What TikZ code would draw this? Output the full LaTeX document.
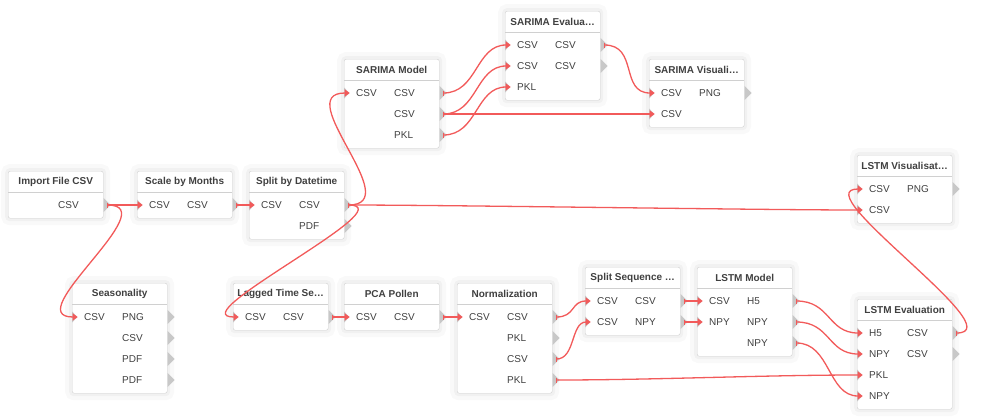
\documentclass[tikz,border=0pt]{standalone}
\usepackage{fontspec}
\setmainfont{Liberation Sans}
\usepackage{xcolor}
\usepackage{tikz}
\usetikzlibrary{shapes,arrows.meta,positioning,calc}

\definecolor{linkred}{RGB}{242,90,90}
\definecolor{portgrey}{RGB}{200,200,200}
\definecolor{boxgrey}{RGB}{208,208,208}
\definecolor{textgrey}{RGB}{64,64,64}

\begin{document}
\begin{tikzpicture}[
    x=1pt, y=-1pt,
    block/.style={rectangle, draw=boxgrey, fill=white, rounded corners=2pt, anchor=north west, inner sep=0pt,
        minimum width=95pt, minimum height=26pt+21pt*#1,
        preaction={draw=black, draw opacity=0.025, line width=14pt},
        preaction={draw=black, draw opacity=0.03, line width=6pt},
        path picture={\draw[boxgrey] ([yshift=-21pt]path picture bounding box.north west) -- ([yshift=-21pt]path picture bounding box.north east);}},
    title/.style={inner sep=0pt, font=\fontsize{10}{12}\selectfont\bfseries, text=textgrey},
    plabel/.style={anchor=west, inner sep=0pt, font=\fontsize{10}{12}\selectfont, text=textgrey},
    oport/.style={isosceles triangle, isosceles triangle stretches, fill=portgrey, inner sep=0pt, minimum width=14pt, minimum height=7pt, anchor=west},
    iport/.style={oport, minimum width=11pt, minimum height=5pt},
    link/.style={draw=linkred, line width=1.3pt, {Bar[width=5pt]}-{Triangle[length=5pt,width=7pt]}},
    wire/.style={to path={.. controls +(#1,0) and +(-#1,0) .. (\tikztotarget)}},
    wire/.default=40
]
\useasboundingbox (0,0) rectangle (983,416);

% Import and split
\node[block=1] (import) at (8,171) {};
\node[title] (import-t) at ([yshift=-10.5pt]import.north) {Import File CSV};
\foreach \i/\t in {1/CSV} {
  \node[plabel] (import-ot\i) at ($(import.north west)+(50,13+21*\i)$) {\t};
  \node[oport] (import-o\i) at (import.east |- import-ot\i) {};
}

\node[block=1] (scale) at (137,171) {};
\node[title] (scale-t) at ([yshift=-10.5pt]scale.north) {Scale by Months};
\foreach \i/\t in {1/CSV} {
  \node[plabel] (scale-it\i) at ($(scale.north west)+(12,13+21*\i)$) {\t};
  \node[iport] (scale-i\i) at (scale.west |- scale-it\i) {};
}
\foreach \i/\t in {1/CSV} {
  \node[plabel] (scale-ot\i) at ($(scale.north west)+(50,13+21*\i)$) {\t};
  \node[oport] (scale-o\i) at (scale.east |- scale-ot\i) {};
}

\node[block=2] (split) at (249,171) {};
\node[title] (split-t) at ([yshift=-10.5pt]split.north) {Split by Datetime};
\foreach \i/\t in {1/CSV} {
  \node[plabel] (split-it\i) at ($(split.north west)+(12,13+21*\i)$) {\t};
  \node[iport] (split-i\i) at (split.west |- split-it\i) {};
}
\foreach \i/\t in {1/CSV,2/PDF} {
  \node[plabel] (split-ot\i) at ($(split.north west)+(50,13+21*\i)$) {\t};
  \node[oport] (split-o\i) at (split.east |- split-ot\i) {};
}

\node[block=4] (season) at (72,283) {};
\node[title] (season-t) at ([yshift=-10.5pt]season.north) {Seasonality};
\foreach \i/\t in {1/CSV} {
  \node[plabel] (season-it\i) at ($(season.north west)+(12,13+21*\i)$) {\t};
  \node[iport] (season-i\i) at (season.west |- season-it\i) {};
}
\foreach \i/\t in {1/PNG,2/CSV,3/PDF,4/PDF} {
  \node[plabel] (season-ot\i) at ($(season.north west)+(50,13+21*\i)$) {\t};
  \node[oport] (season-o\i) at (season.east |- season-ot\i) {};
}

% SARIMA branch
\node[block=3] (smodel) at (344,59) {};
\node[title] (smodel-t) at ([yshift=-10.5pt]smodel.north) {SARIMA Model};
\foreach \i/\t in {1/CSV} {
  \node[plabel] (smodel-it\i) at ($(smodel.north west)+(12,13+21*\i)$) {\t};
  \node[iport] (smodel-i\i) at (smodel.west |- smodel-it\i) {};
}
\foreach \i/\t in {1/CSV,2/CSV,3/PKL} {
  \node[plabel] (smodel-ot\i) at ($(smodel.north west)+(50,13+21*\i)$) {\t};
  \node[oport] (smodel-o\i) at (smodel.east |- smodel-ot\i) {};
}

\node[block=3] (seval) at (505,11) {};
\node[title] (seval-t) at ([yshift=-10.5pt]seval.north) {SARIMA Evalua…};
\foreach \i/\t in {1/CSV,2/CSV,3/PKL} {
  \node[plabel] (seval-it\i) at ($(seval.north west)+(12,13+21*\i)$) {\t};
  \node[iport] (seval-i\i) at (seval.west |- seval-it\i) {};
}
\foreach \i/\t in {1/CSV,2/CSV} {
  \node[plabel] (seval-ot\i) at ($(seval.north west)+(50,13+21*\i)$) {\t};
  \node[oport] (seval-o\i) at (seval.east |- seval-ot\i) {};
}

\node[block=2] (svis) at (649,59) {};
\node[title] (svis-t) at ([yshift=-10.5pt]svis.north) {SARIMA Visuali…};
\foreach \i/\t in {1/CSV,2/CSV} {
  \node[plabel] (svis-it\i) at ($(svis.north west)+(12,13+21*\i)$) {\t};
  \node[iport] (svis-i\i) at (svis.west |- svis-it\i) {};
}
\foreach \i/\t in {1/PNG} {
  \node[plabel] (svis-ot\i) at ($(svis.north west)+(50,13+21*\i)$) {\t};
  \node[oport] (svis-o\i) at (svis.east |- svis-ot\i) {};
}

% LSTM branch
\node[block=1] (lagged) at (233,283) {};
\node[title] (lagged-t) at ([yshift=-10.5pt]lagged.north) {Lagged Time Se…};
\foreach \i/\t in {1/CSV} {
  \node[plabel] (lagged-it\i) at ($(lagged.north west)+(12,13+21*\i)$) {\t};
  \node[iport] (lagged-i\i) at (lagged.west |- lagged-it\i) {};
}
\foreach \i/\t in {1/CSV} {
  \node[plabel] (lagged-ot\i) at ($(lagged.north west)+(50,13+21*\i)$) {\t};
  \node[oport] (lagged-o\i) at (lagged.east |- lagged-ot\i) {};
}

\node[block=1] (pca) at (344,283) {};
\node[title] (pca-t) at ([yshift=-10.5pt]pca.north) {PCA Pollen};
\foreach \i/\t in {1/CSV} {
  \node[plabel] (pca-it\i) at ($(pca.north west)+(12,13+21*\i)$) {\t};
  \node[iport] (pca-i\i) at (pca.west |- pca-it\i) {};
}
\foreach \i/\t in {1/CSV} {
  \node[plabel] (pca-ot\i) at ($(pca.north west)+(50,13+21*\i)$) {\t};
  \node[oport] (pca-o\i) at (pca.east |- pca-ot\i) {};
}

\node[block=4] (norm) at (457,283) {};
\node[title] (norm-t) at ([yshift=-10.5pt]norm.north) {Normalization};
\foreach \i/\t in {1/CSV} {
  \node[plabel] (norm-it\i) at ($(norm.north west)+(12,13+21*\i)$) {\t};
  \node[iport] (norm-i\i) at (norm.west |- norm-it\i) {};
}
\foreach \i/\t in {1/CSV,2/PKL,3/CSV,4/PKL} {
  \node[plabel] (norm-ot\i) at ($(norm.north west)+(50,13+21*\i)$) {\t};
  \node[oport] (norm-o\i) at (norm.east |- norm-ot\i) {};
}

\node[block=2] (seq) at (585,267) {};
\node[title] (seq-t) at ([yshift=-10.5pt]seq.north) {Split Sequence …};
\foreach \i/\t in {1/CSV,2/CSV} {
  \node[plabel] (seq-it\i) at ($(seq.north west)+(12,13+21*\i)$) {\t};
  \node[iport] (seq-i\i) at (seq.west |- seq-it\i) {};
}
\foreach \i/\t in {1/CSV,2/NPY} {
  \node[plabel] (seq-ot\i) at ($(seq.north west)+(50,13+21*\i)$) {\t};
  \node[oport] (seq-o\i) at (seq.east |- seq-ot\i) {};
}

\node[block=3] (lstm) at (697,267) {};
\node[title] (lstm-t) at ([yshift=-10.5pt]lstm.north) {LSTM Model};
\foreach \i/\t in {1/CSV,2/NPY} {
  \node[plabel] (lstm-it\i) at ($(lstm.north west)+(12,13+21*\i)$) {\t};
  \node[iport] (lstm-i\i) at (lstm.west |- lstm-it\i) {};
}
\foreach \i/\t in {1/H5,2/NPY,3/NPY} {
  \node[plabel] (lstm-ot\i) at ($(lstm.north west)+(50,13+21*\i)$) {\t};
  \node[oport] (lstm-o\i) at (lstm.east |- lstm-ot\i) {};
}

\node[block=4] (leval) at (857,299) {};
\node[title] (leval-t) at ([yshift=-10.5pt]leval.north) {LSTM Evaluation};
\foreach \i/\t in {1/H5,2/NPY,3/PKL,4/NPY} {
  \node[plabel] (leval-it\i) at ($(leval.north west)+(12,13+21*\i)$) {\t};
  \node[iport] (leval-i\i) at (leval.west |- leval-it\i) {};
}
\foreach \i/\t in {1/CSV,2/CSV} {
  \node[plabel] (leval-ot\i) at ($(leval.north west)+(50,13+21*\i)$) {\t};
  \node[oport] (leval-o\i) at (leval.east |- leval-ot\i) {};
}

\node[block=2] (lvis) at (857,155) {};
\node[title] (lvis-t) at ([yshift=-10.5pt]lvis.north) {LSTM Visualisat…};
\foreach \i/\t in {1/CSV,2/CSV} {
  \node[plabel] (lvis-it\i) at ($(lvis.north west)+(12,13+21*\i)$) {\t};
  \node[iport] (lvis-i\i) at (lvis.west |- lvis-it\i) {};
}
\foreach \i/\t in {1/PNG} {
  \node[plabel] (lvis-ot\i) at ($(lvis.north west)+(50,13+21*\i)$) {\t};
  \node[oport] (lvis-o\i) at (lvis.east |- lvis-ot\i) {};
}

% Links
\draw[link] (import-o1.center) to[wire] (scale-i1.apex);
\draw[link] (import-o1.center) to[wire=60] (season-i1.apex);
\draw[link] (scale-o1.center) to[wire] (split-i1.apex);
\draw[link] (split-o1.center) to[wire=60] (smodel-i1.apex);
\draw[link] (split-o1.center) to[wire=60] (lagged-i1.apex);
\draw[link] (split-o1.center) to[wire=100] (lvis-i2.apex);
\draw[link] (smodel-o1.center) to[wire=35] (seval-i1.apex);
\draw[link] (smodel-o2.center) to[wire=35] (seval-i2.apex);
\draw[link] (smodel-o3.center) to[wire=35] (seval-i3.apex);
\draw[link] (smodel-o2.center) to[wire=60] (svis-i2.apex);
\draw[link] (seval-o1.center) to[wire=35] (svis-i1.apex);
\draw[link] (lagged-o1.center) to[wire] (pca-i1.apex);
\draw[link] (pca-o1.center) to[wire] (norm-i1.apex);
\draw[link] (norm-o1.center) to[wire=20] (seq-i1.apex);
\draw[link] (norm-o3.center) to[wire=20] (seq-i2.apex);
\draw[link] (norm-o4.center) to[wire=100] (leval-i3.apex);
\draw[link] (seq-o1.center) to[wire] (lstm-i1.apex);
\draw[link] (seq-o2.center) to[wire] (lstm-i2.apex);
\draw[link] (lstm-o1.center) to[wire=35] (leval-i1.apex);
\draw[link] (lstm-o2.center) to[wire=35] (leval-i2.apex);
\draw[link] (lstm-o3.center) to[wire=35] (leval-i4.apex);
\draw[link] (leval-o1.center) to[wire=60] (lvis-i1.apex);

\end{tikzpicture}
\end{document}
